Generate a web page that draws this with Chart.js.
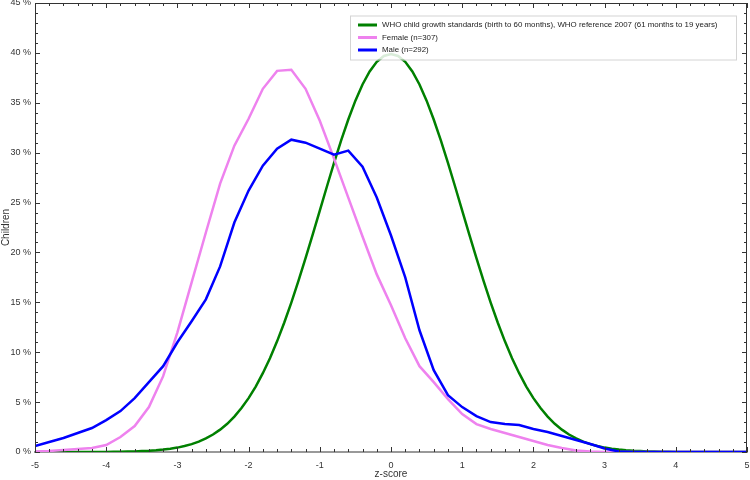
<!DOCTYPE html>
<html>
<head>
<meta charset="utf-8">
<script src="https://cdn.jsdelivr.net/npm/chart.js@4/dist/chart.umd.min.js"></script>
<style>
html,body{margin:0;padding:0;background:#fff;}
#wrap{width:750px;height:480px;position:relative;}
</style>
</head>
<body>
<div id="wrap"><canvas id="c" width="750" height="480"></canvas></div>
<script>
// z-score positions of the sample curves
const zSample = [-5,-4.8,-4.6,-4.4,-4.2,-4,-3.8,-3.6,-3.4,-3.2,-3,-2.8,-2.6,-2.4,-2.2,-2,-1.8,-1.6,-1.4,-1.2,-1,-0.8,-0.6,-0.4,-0.2,0,0.2,0.4,0.6,0.8,1,1.2,1.4,1.6,1.8,2,2.2,2.4,2.6,2.8,3,3.2,3.4,3.6,3.8,4,4.2,4.4,4.6,4.8,5];
const female = [0.05,0.1,0.2,0.3,0.4,0.7,1.5,2.6,4.5,7.6,12.0,17.0,22.0,26.9,30.7,33.4,36.4,38.2,38.3,36.4,33.2,29.4,25.5,21.6,17.8,14.7,11.4,8.6,7.0,5.3,3.8,2.8,2.3,1.9,1.5,1.1,0.7,0.4,0.15,0.05,0,0,0,0,0,0,0,0,0,0,0];
const male = [0.6,1.0,1.4,1.9,2.4,3.2,4.1,5.4,7.0,8.6,11.0,13.1,15.3,18.6,23.0,26.2,28.7,30.4,31.3,31.0,30.4,29.8,30.2,28.6,25.5,21.7,17.5,12.2,8.2,5.7,4.5,3.6,3.0,2.8,2.7,2.3,2.0,1.6,1.2,0.8,0.35,0.05,0,0,0,0,0,0,0,0,0];
// reference curve positions and values
const zRef = [-5,-4.9,-4.8,-4.7,-4.6,-4.5,-4.4,-4.3,-4.2,-4.1,-4,-3.9,-3.8,-3.7,-3.6,-3.5,-3.4,-3.3,-3.2,-3.1,-3,-2.9,-2.8,-2.7,-2.6,-2.5,-2.4,-2.3,-2.2,-2.1,-2,-1.9,-1.8,-1.7,-1.6,-1.5,-1.4,-1.3,-1.2,-1.1,-1,-0.9,-0.8,-0.7,-0.6,-0.5,-0.4,-0.3,-0.2,-0.1,0,0.1,0.2,0.3,0.4,0.5,0.6,0.7,0.8,0.9,1,1.1,1.2,1.3,1.4,1.5,1.6,1.7,1.8,1.9,2,2.1,2.2,2.3,2.4,2.5,2.6,2.7,2.8,2.9,3,3.1,3.2,3.3,3.4,3.5,3.6,3.7,3.8,3.9,4,4.1,4.2,4.3,4.4,4.5,4.6,4.7,4.8,4.9,5];
const who = [0,0,0,0,0,0,0,0,0.01,0.01,0.01,0.02,0.03,0.04,0.06,0.09,0.12,0.17,0.24,0.33,0.44,0.60,0.79,1.04,1.36,1.75,2.24,2.83,3.55,4.40,5.40,6.56,7.90,9.40,11.09,12.95,14.97,17.14,19.42,21.79,24.20,26.61,28.97,31.23,33.32,35.21,36.83,38.14,39.10,39.69,39.89,39.69,39.10,38.14,36.83,35.21,33.32,31.23,28.97,26.61,24.20,21.79,19.42,17.14,14.97,12.95,11.09,9.40,7.90,6.56,5.40,4.40,3.55,2.83,2.24,1.75,1.36,1.04,0.79,0.60,0.44,0.33,0.24,0.17,0.12,0.09,0.06,0.04,0.03,0.02,0.01,0.01,0.01,0,0,0,0,0,0,0,0];
const seriesLabels = ['WHO child growth standards (birth to 60 months), WHO reference 2007 (61 months to 19 years)','Female (n=307)','Male (n=292)'];
const xTitle = 'z-score';
const yTitle = 'Children';

const pts = (xs, ys) => xs.map((x, i) => ({x: x, y: ys[i]}));

const FONT = "'Liberation Sans', Arial, sans-serif";

const framePlugin = {
  id: 'frame',
  afterDatasetsDraw(chart) {
    const {ctx, chartArea: a, scales} = chart;
    const xs = scales.x, ys = scales.y;
    ctx.save();
    ctx.strokeStyle = '#333';
    ctx.lineWidth = 1;
    ctx.beginPath();
    ctx.moveTo(a.left + 0.5, a.bottom);
    ctx.lineTo(a.left + 0.5, a.top + 0.5);
    ctx.lineTo(a.right - 0.5, a.top + 0.5);
    ctx.lineTo(a.right - 0.5, a.bottom);
    ctx.stroke();
    ctx.beginPath();
    for (let k = -50; k <= 50; k += 2) {
      const v = k / 10;
      const px = Math.round(xs.getPixelForValue(v)) + 0.5;
      const major = (k % 10 === 0);
      const len = major ? 5 : 3;
      ctx.moveTo(px, a.top); ctx.lineTo(px, a.top + len);
      ctx.moveTo(px, a.bottom); ctx.lineTo(px, a.bottom - len);
    }
    for (let v = 0; v <= 45; v += 1) {
      const py = Math.round(ys.getPixelForValue(v)) + 0.5;
      const major = (v % 5 === 0);
      const len = major ? 5 : 3;
      ctx.moveTo(a.left, py); ctx.lineTo(a.left + len, py);
      ctx.moveTo(a.right, py); ctx.lineTo(a.right - len, py);
    }
    ctx.stroke();
    ctx.restore();
  },
  afterDraw(chart) {
    const {ctx} = chart;
    const ds = chart.data.datasets;
    const bx = 350, by = 15.5, bw = 386, bh = 44;
    ctx.save();
    ctx.fillStyle = 'rgba(255,255,255,0.85)';
    ctx.fillRect(bx, by, bw, bh);
    ctx.strokeStyle = '#d4d4d4';
    ctx.lineWidth = 1;
    ctx.strokeRect(bx + 0.5, by + 0.5, bw, bh);
    ctx.font = '7.9px ' + FONT;
    ctx.textBaseline = 'middle';
    ctx.textAlign = 'left';
    const rows = [25, 37.5, 50];
    ds.forEach((d, i) => {
      const y = rows[i];
      ctx.strokeStyle = d.borderColor;
      ctx.lineWidth = 3;
      ctx.beginPath();
      ctx.moveTo(358, y); ctx.lineTo(377, y);
      ctx.stroke();
      ctx.fillStyle = '#222';
      ctx.fillText(d.label, 382, y);
    });
    ctx.restore();
  }
};

new Chart(document.getElementById('c'), {
  type: 'line',
  data: {
    datasets: [
      {label: seriesLabels[0], data: pts(zRef, who), borderColor: '#008000', borderWidth: 2.5, pointRadius: 0, tension: 0, order: 3},
      {label: seriesLabels[1], data: pts(zSample, female), borderColor: '#ee82ee', borderWidth: 2.5, pointRadius: 0, tension: 0, order: 2},
      {label: seriesLabels[2], data: pts(zSample, male), borderColor: '#0000ff', borderWidth: 2.5, pointRadius: 0, tension: 0, order: 1}
    ]
  },
  options: {
    responsive: false,
    animation: false,
    layout: {padding: {top: 3, right: 3, left: 0, bottom: 0}},
    plugins: {legend: {display: false}, tooltip: {enabled: false}},
    scales: {
      x: {
        type: 'linear', min: -5, max: 5,
        ticks: {stepSize: 1, color: '#333', font: {size: 9, family: FONT}, padding: 8, maxRotation: 0,
                callback: v => String(v)},
        grid: {display: false, drawTicks: false},
        border: {display: true, color: '#999', width: 2},
        title: {display: true, text: xTitle, color: '#333', font: {size: 10, family: FONT}, padding: {top: 0, bottom: 0}},
        afterFit: s => { s.height = 28; s.paddingLeft = 0; s.paddingRight = 0; }
      },
      y: {
        min: 0, max: 45,
        ticks: {stepSize: 5, color: '#333', font: {size: 9, family: FONT}, padding: 4,
                callback: v => v + ' %'},
        grid: {display: false, drawTicks: false},
        border: {display: false},
        title: {display: true, text: yTitle, color: '#333', font: {size: 10, family: FONT}, padding: {top: 0, bottom: 2}},
        afterFit: s => { s.width = 35; s.paddingTop = 0; s.paddingBottom = 0; }
      }
    }
  },
  plugins: [framePlugin]
});
</script>
</body>
</html>
